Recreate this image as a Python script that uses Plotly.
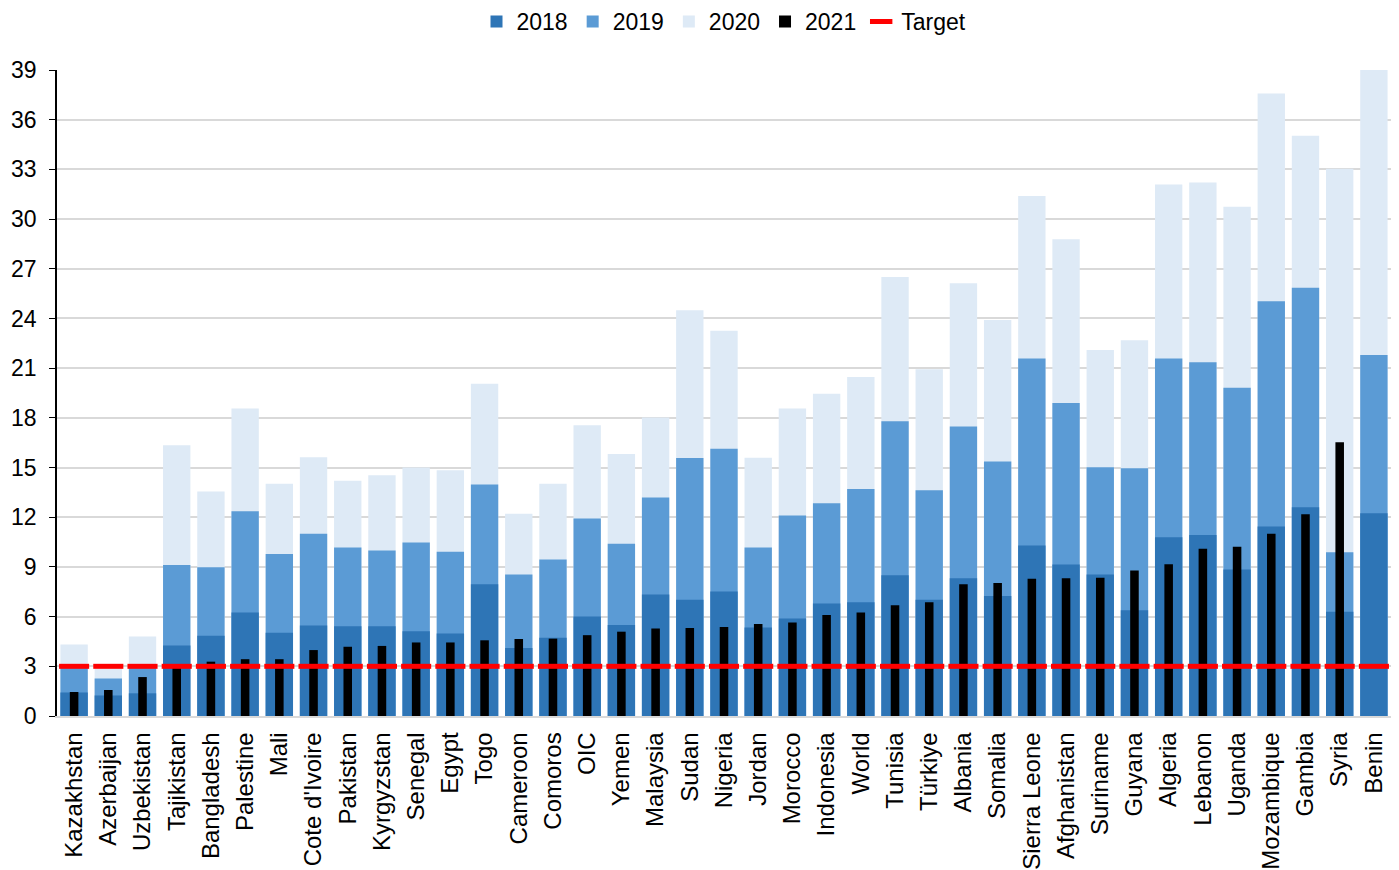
import plotly.graph_objects as go

countries = ["Kazakhstan", "Azerbaijan", "Uzbekistan", "Tajikistan", "Bangladesh", "Palestine",
             "Mali", "Cote d'Ivoire", "Pakistan", "Kyrgyzstan", "Senegal", "Egypt", "Togo",
             "Cameroon", "Comoros", "OIC", "Yemen", "Malaysia", "Sudan", "Nigeria", "Jordan",
             "Morocco", "Indonesia", "World", "Tunisia", "Türkiye", "Albania", "Somalia",
             "Sierra Leone", "Afghanistan", "Suriname", "Guyana", "Algeria", "Lebanon", "Uganda",
             "Mozambique", "Gambia", "Syria", "Benin"]

v2018 = [1.42, 1.24, 1.37, 4.26, 4.85, 6.25, 5.03, 5.47, 5.42, 5.42, 5.11, 4.98, 7.95,
         4.10, 4.72, 6.01, 5.50, 7.33, 7.02, 7.51, 5.34, 5.89, 6.79, 6.87, 8.49, 7.02,
         8.31, 7.25, 10.30, 9.14, 8.54, 6.38, 10.79, 10.92, 8.85, 11.44, 12.60, 6.30, 12.24]
v2019 = [2.90, 2.27, 2.90, 9.11, 8.98, 12.36, 9.78, 11.00, 10.17, 9.99, 10.48, 9.91, 13.97,
         8.54, 9.45, 11.93, 10.40, 13.19, 15.57, 16.13, 10.17, 12.11, 12.85, 13.71, 17.79, 13.63,
         17.48, 15.36, 21.58, 18.90, 15.02, 14.95, 21.58, 21.35, 19.82, 25.04, 25.86, 9.89, 21.79]
v2020 = [4.31, 3.10, 4.80, 16.34, 13.55, 18.56, 14.02, 15.62, 14.20, 14.53, 15.00, 14.84, 20.06,
         12.21, 14.02, 17.55, 15.82, 18.02, 24.50, 23.26, 15.59, 18.56, 19.46, 20.47, 26.51, 20.93,
         26.12, 23.90, 31.39, 28.78, 22.10, 22.69, 32.09, 32.21, 30.74, 37.58, 35.03, 33.04, 39.50]
v2021 = [1.45, 1.57, 2.35, 2.90, 3.28, 3.43, 3.43, 3.98, 4.18, 4.23, 4.44, 4.44, 4.57,
         4.65, 4.67, 4.88, 5.09, 5.29, 5.32, 5.37, 5.55, 5.65, 6.09, 6.25, 6.69, 6.87,
         7.95, 8.03, 8.29, 8.31, 8.34, 8.78, 9.16, 10.09, 10.22, 11.00, 12.18, 16.52, None]
target = [3] * len(countries)

y_ticks = list(range(0, 40, 3))

FONT = "Liberation Sans, Arial, sans-serif"

fig = go.Figure()
fig.add_trace(go.Bar(x=countries, y=v2020, name="2020", marker_color="#DEEAF6",
                     marker_line_width=0, width=0.8, legendrank=3))
fig.add_trace(go.Bar(x=countries, y=v2019, name="2019", marker_color="#5B9BD5",
                     marker_line_width=0, width=0.8, legendrank=2))
fig.add_trace(go.Bar(x=countries, y=v2018, name="2018", marker_color="#2E75B6",
                     marker_line_width=0, width=0.8, legendrank=1))
fig.add_trace(go.Bar(x=countries, y=v2021, name="2021", marker_color="#000000",
                     marker_line_width=0, width=0.25, legendrank=4))
fig.add_trace(go.Scatter(x=countries, y=target, name="Target", mode="markers",
                         marker=dict(symbol="line-ew", size=21.5,
                                     line=dict(color="#FF0000", width=5)),
                         legendrank=5))

# page body has an 8px margin, so the figure is sized/offset to compensate
fig.update_layout(
    width=1391, height=862,
    barmode="overlay",
    paper_bgcolor="white", plot_bgcolor="white",
    font=dict(family=FONT, size=23, color="black"),
    margin=dict(l=49, r=8, t=62, b=154, autoexpand=False),
    legend=dict(orientation="h", x=0.5, xanchor="center", y=1.075, yanchor="middle",
                font=dict(size=23), itemwidth=30, tracegroupgap=0),
    xaxis=dict(tickangle=-90, tickfont=dict(size=24), showgrid=False,
               showline=True, linecolor="#D9D9D9", linewidth=1.5,
               ticks="", range=[-0.5, len(countries) - 0.5], automargin=False,
               ticklabelstandoff=5),
    yaxis=dict(range=[0, 39], tickvals=y_ticks, ticktext=[str(t) for t in y_ticks],
               showgrid=True, gridcolor="#D9D9D9", gridwidth=1.5,
               showline=True, linecolor="black", linewidth=1.5,
               ticks="outside", ticklen=6, tickcolor="black",
               tickfont=dict(size=23), zeroline=False, automargin=False,
               ticklabelstandoff=8),
)

fig.write_html("out.html")
